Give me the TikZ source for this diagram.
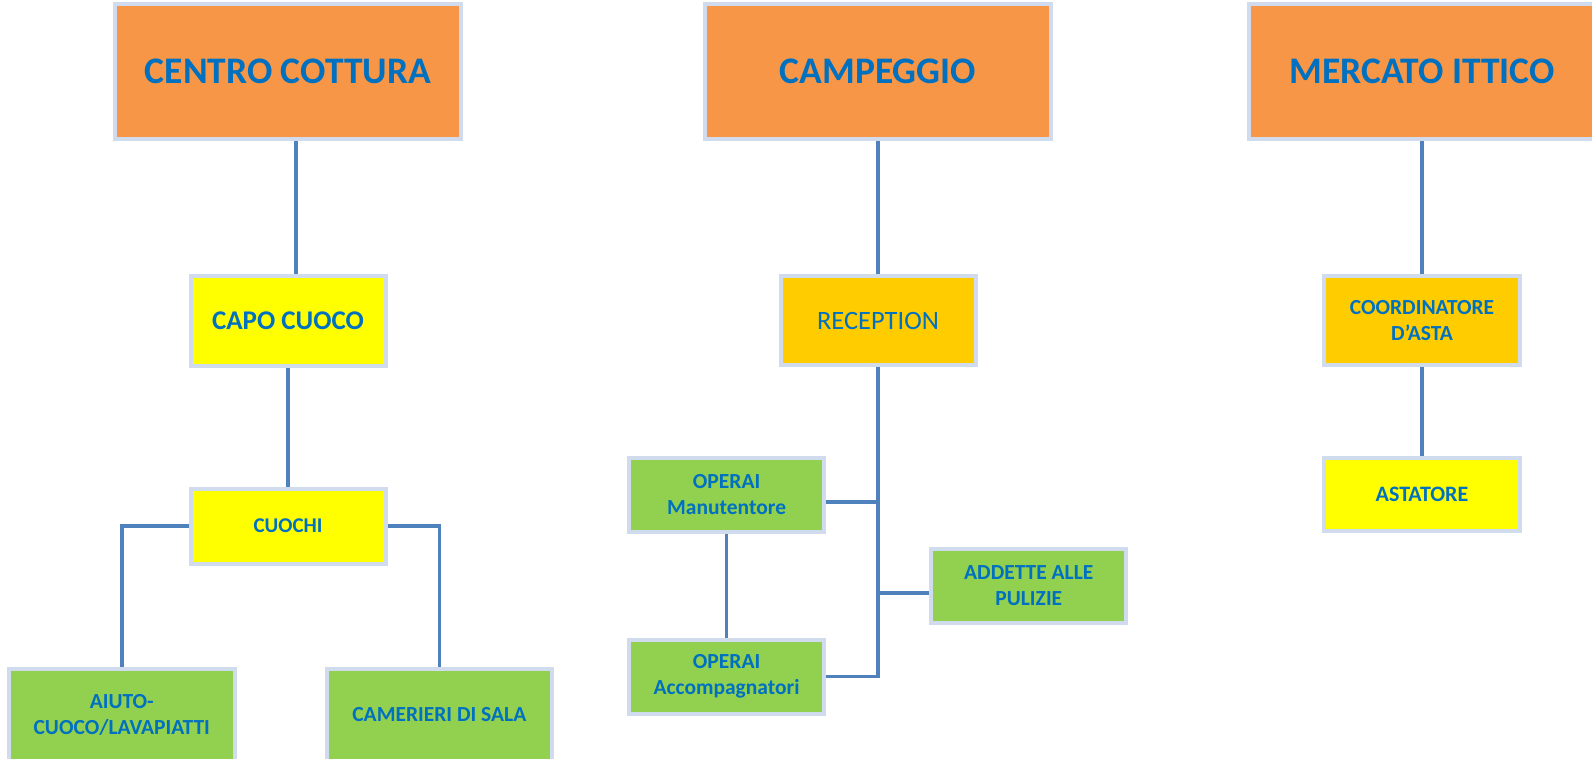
\documentclass[tikz,border=0pt]{standalone}
\usepackage{fontspec}
\setmainfont{Carlito}
\definecolor{boxorange}{RGB}{247,150,70}
\definecolor{boxyellow}{RGB}{255,255,0}
\definecolor{boxgold}{RGB}{255,204,0}
\definecolor{boxgreen}{RGB}{146,208,80}
\definecolor{txtblue}{RGB}{0,112,192}
\definecolor{linkblue}{RGB}{79,129,189}
\definecolor{frameblue}{RGB}{208,220,237}
\begin{document}
\begin{tikzpicture}
			[x=1pt,y=-1pt,
			box/.style={rectangle,draw=frameblue,line width=4pt,text=txtblue,font=\bfseries,align=center,inner sep=0pt},
			head/.style={box,fill=boxorange,minimum width=346pt,minimum height=135pt,font=\bfseries\fontsize{37.5}{42}\selectfont},
			small/.style={font=\bfseries\fontsize{21.5}{26}\selectfont},
			link/.style={draw=linkblue,line width=3.5pt}]
			\clip (0,0) rectangle (1592,759);
			\useasboundingbox (0,0) rectangle (1592,759);
			% top row
			\node[head,name=cc] at (288,71.5) {CENTRO COTTURA};
			\node[head,name=camp] at (878,71.5) {CAMPEGGIO};
			\node[head,name=merc] at (1422,71.5) {MERCATO ITTICO};
			% second row
			\node[box,name=capo,fill=boxyellow,minimum width=195pt,minimum height=90pt,font=\bfseries\fontsize{27}{30}\selectfont] at (288,321) {CAPO CUOCO};
			\node[box,name=recep,fill=boxgold,minimum width=195pt,minimum height=89pt,font=\fontsize{26.5}{30}\selectfont] at (878,320.8) {RECEPTION};
			\node[box,name=coord,fill=boxgold,minimum width=196pt,minimum height=89pt,small] at (1422,320.7) {COORDINATORE\\D’ASTA};
			% lower levels
			\node[box,name=cuochi,fill=boxyellow,minimum width=195pt,minimum height=75pt,font=\bfseries\fontsize{21}{25}\selectfont] at (288,526) {CUOCHI};
			\node[box,name=aiuto,fill=boxgreen,minimum width=226pt,minimum height=92pt,small] at (121.8,715) {AIUTO-\\CUOCO/LAVAPIATTI};
			\node[box,name=camer,fill=boxgreen,minimum width=225pt,minimum height=92pt,small] at (439.3,715) {CAMERIERI DI SALA};
			\node[box,name=manut,fill=boxgreen,minimum width=195pt,minimum height=74pt,small] at (726.6,495) {OPERAI\\Manutentore};
			\node[box,name=accomp,fill=boxgreen,minimum width=195pt,minimum height=74pt,small] at (726.6,676.5) {OPERAI\\Accompagnatori};
			\node[box,name=addette,fill=boxgreen,minimum width=195pt,minimum height=74pt,small] at (1028.8,586) {ADDETTE ALLE\\PULIZIE};
			\node[box,name=astat,fill=boxyellow,minimum width=196pt,minimum height=73pt,font=\bfseries\fontsize{22}{26}\selectfont] at (1422,494.7) {ASTATORE};
			% connectors
			\draw[link]([xshift=8pt]cc.south)--([xshift=8pt]capo.north);
			\draw[link](capo)--(cuochi);
			\draw[link](cuochi.west)-|(aiuto.north);
			\draw[link](cuochi.east)-|(camer.north);
			\draw[link](camp)--(recep);
			\draw[link](recep.south)|-(accomp.east);
			\draw[link]([yshift=-7pt]manut.east)--([yshift=-7pt]manut.east-|recep.south);
			\draw[link]([yshift=-7pt]addette.west)--([yshift=-7pt]addette.west-|recep.south);
			\draw[link](manut)--(accomp);
			\draw[link](merc)--(coord);
			\draw[link](coord)--(astat);
		\end{tikzpicture}
\end{document}
